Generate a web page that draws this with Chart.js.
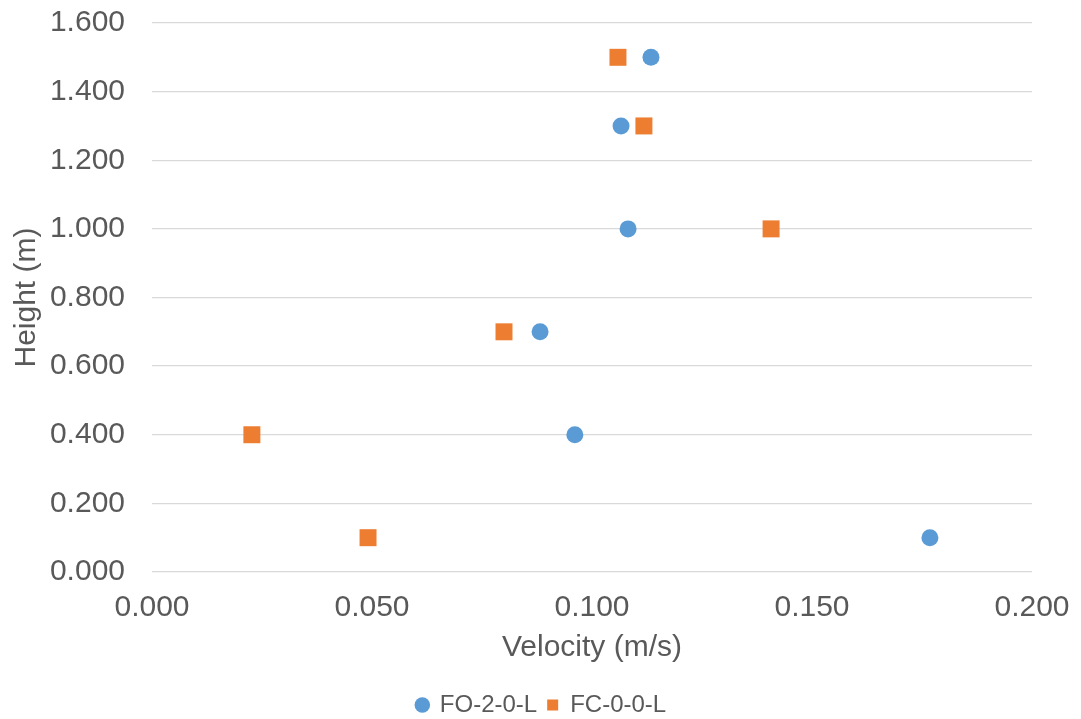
<!DOCTYPE html>
<html><head><meta charset="utf-8">
<script src="https://cdn.jsdelivr.net/npm/chart.js@4"></script>
<style>html,body{margin:0;padding:0;background:#fff}#w{width:1081px;height:719px}</style>
</head><body><div id="w"><canvas id="c"></canvas></div>
<script>
const heights = [0.1, 0.4, 0.7, 1.0, 1.3, 1.5];
const foVelocity = [0.1768, 0.0961, 0.0882, 0.1082, 0.1066, 0.1134];
const fcVelocity = [0.0491, 0.0227, 0.0800, 0.1407, 0.1118, 0.1059];
const seriesNames = ['FO-2-0-L', 'FC-0-0-L'];
const xTitle = 'Velocity (m/s)';
const yTitle = 'Height (m)';

const toPts = (xs) => xs.map((v, i) => ({x: v, y: heights[i]}));
const font = 'Liberation Sans, Arial, sans-serif';
const txt = '#595959';

new Chart(document.getElementById('c'), {
  type: 'scatter',
  data: {
    datasets: [
      {label: seriesNames[0], data: toPts(foVelocity), pointStyle: 'circle', pointRadius: 8.5, pointHoverRadius: 8.5,
       backgroundColor: '#5B9BD5', borderColor: '#5B9BD5', borderWidth: 0},
      {label: seriesNames[1], data: toPts(fcVelocity), pointStyle: 'rect', pointRadius: 12, pointHoverRadius: 12,
       backgroundColor: '#ED7D31', borderColor: '#ED7D31', borderWidth: 0}
    ]
  },
  options: {
    responsive: true, maintainAspectRatio: false, animation: false,
    layout: {padding: {top: 0, right: 7, left: 9, bottom: -8}},
    plugins: {
      tooltip: {enabled: false},
      legend: {position: 'bottom', labels: {usePointStyle: true, boxWidth: 11, boxHeight: 11, padding: 10,
        color: txt, font: {family: font, size: 24}}}
    },
    scales: {
      x: {type: 'linear', min: 0, max: 0.2,
        ticks: {stepSize: 0.05, callback: v => v.toFixed(3), color: txt, font: {family: font, size: 30}, padding: 18},
        grid: {display: false, drawTicks: false}, border: {display: false},
        title: {display: true, text: xTitle, color: txt, font: {family: font, size: 30}, padding: {top: 0, bottom: 17}},
        afterFit: (s) => { s.height = 111; s.paddingRight = 49; }
      },
      y: {type: 'linear', min: 0, max: 1.6,
        ticks: {stepSize: 0.2, callback: v => v.toFixed(3), color: txt, font: {family: font, size: 30}, padding: 27},
        grid: {color: '#d9d9d9', lineWidth: 1.3, drawTicks: false}, border: {display: false},
        title: {display: true, text: yTitle, color: txt, font: {family: font, size: 30}, padding: 0},
        afterFit: (s) => { s.width = 143; s.paddingTop = 23; s.paddingBottom = 18; }
      }
    }
  }
});
</script></body></html>
